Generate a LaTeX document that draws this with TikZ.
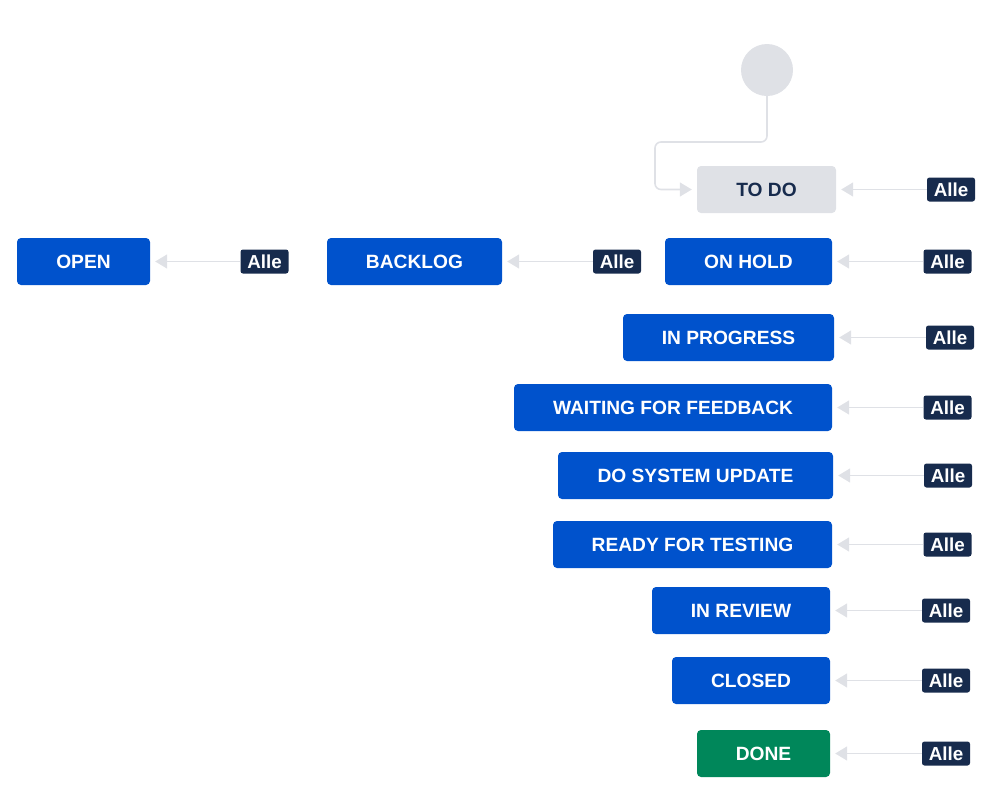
\documentclass[tikz,border=0pt]{standalone}
\usepackage{xcolor}
\usepackage{fontspec}
\setmainfont{Liberation Sans}
\usetikzlibrary{arrows.meta}

\definecolor{jblue}{HTML}{0052CC}
\definecolor{jnavy}{HTML}{172B4D}
\definecolor{jgreen}{HTML}{00875A}
\definecolor{jgray}{HTML}{DFE1E6}

\tikzset{
	status/.style={rounded corners=4pt, minimum height=47pt, inner sep=0pt, text=white,
		font=\fontsize{19.2}{21}\selectfont\bfseries},
	alle/.style={fill=jnavy, rounded corners=2.5pt, minimum width=48pt, minimum height=24pt,
		inner sep=0pt, text=white, font=\fontsize{18.8}{20}\selectfont\bfseries},
	trans/.style={draw=jgray, line width=1.6pt, -{Triangle[length=12pt,width=14pt]}, shorten >=5pt},
}

\begin{document}
	\begin{tikzpicture}[x=1pt, y=-1pt]
		\useasboundingbox (0,0) rectangle (999,801);

		% start circle
		\node[circle, fill=jgray, minimum size=52pt, inner sep=0pt] (start) at (767,70) {};

		% statuses
		\node[status, fill=jgray, text=jnavy, minimum width=139pt] (todo) at (766.5,189.5) {TO DO};
		\node[status, fill=jblue, minimum width=167pt] (onhold) at (748.5,261.5) {ON HOLD};
		\node[status, fill=jblue, minimum width=133pt] (open) at (83.5,261.5) {OPEN};
		\node[status, fill=jblue, minimum width=175pt] (backlog) at (414.5,261.5) {BACKLOG};
		\node[status, fill=jblue, minimum width=211pt] (inprogress) at (728.5,337.5) {IN PROGRESS};
		\node[status, fill=jblue, minimum width=318pt] (feedback) at (673,407.5) {WAITING FOR FEEDBACK};
		\node[status, fill=jblue, minimum width=275pt] (update) at (695.5,475.5) {DO SYSTEM UPDATE};
		\node[status, fill=jblue, minimum width=279pt] (testing) at (692.5,544.5) {READY FOR TESTING};
		\node[status, fill=jblue, minimum width=178pt] (review) at (741,610.5) {IN REVIEW};
		\node[status, fill=jblue, minimum width=158pt] (closed) at (751,680.5) {CLOSED};
		\node[status, fill=jgreen, minimum width=133pt] (done) at (763.5,753.5) {DONE};

		% global transitions
		\node[alle] (a-todo) at (951,189.5) {Alle};
		\node[alle] (a-onhold) at (947.5,261.5) {Alle};
		\node[alle] (a-open) at (264.5,261.5) {Alle};
		\node[alle] (a-backlog) at (617,261.5) {Alle};
		\node[alle] (a-inprogress) at (950,337.5) {Alle};
		\node[alle] (a-feedback) at (947.5,407.5) {Alle};
		\node[alle] (a-update) at (948,475.5) {Alle};
		\node[alle] (a-testing) at (947.5,544.5) {Alle};
		\node[alle] (a-review) at (946,610.5) {Alle};
		\node[alle] (a-closed) at (946,680.5) {Alle};
		\node[alle] (a-done) at (946,753.5) {Alle};

		\draw[trans, rounded corners=6pt] (start.south) |- (655,142) |- (todo.west);
		\foreach \s in {todo, onhold, open, backlog, inprogress, feedback, update, testing, review, closed, done}
			\draw[trans] (a-\s.west) -- (\s.east);
	\end{tikzpicture}
\end{document}
